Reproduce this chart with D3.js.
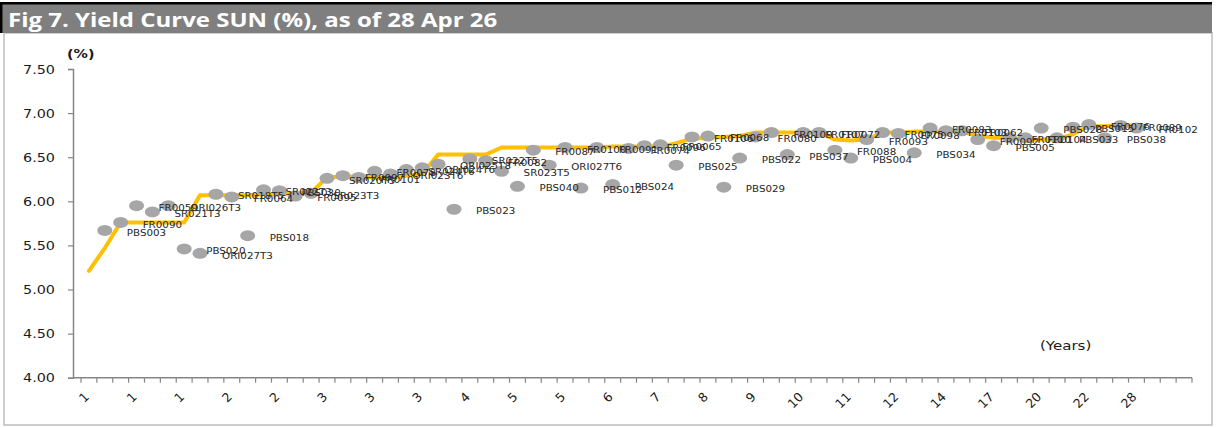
<!DOCTYPE html>
<html>
<head>
<meta charset="utf-8">
<script src="https://cdn.jsdelivr.net/npm/d3@7"></script>
<style>
  html, body { margin: 0; padding: 0; background: #fff; }
  svg { display: block; }
  .axis path, .axis line { stroke: #868686; }
  .axis text { fill: #1a1a1a; font-family: "DejaVu Sans", sans-serif; }
</style>
</head>
<body>
<div id="chart"></div>
<script>
// Tenor labels shown every third category on the x axis
const tenorLabels = ['1', '1', '1', '2', '2', '3', '3', '3', '4', '5', '5', '6', '7', '8',
  '9', '10', '11', '12', '14', '17', '20', '22', '28'];

// Bonds, in category order (category 0 only carries the curve)
const bondNames = ['PBS003', 'FR0090', 'FR0059', 'SR021T3', 'ORI026T3', 'PBS020', 'ORI027T3',
  'SR018T5', 'FR0064', 'PBS018', 'SR022T3', 'PBS030', 'FR0095', 'SR023T3', 'SR020T5',
  'FR0097', 'FR0101', 'FR0078', 'ORI023T6', 'SR024T6', 'ORI024T6', 'ORI025T8', 'PBS023',
  'SR022T5', 'FR0082', 'SR023T5', 'PBS040', 'FR0087', 'ORI027T6', 'FR0100', 'PBS012',
  'FR0091', 'PBS024', 'FR0074', 'FR0096', 'FR0065', 'PBS025', 'FR0106', 'FR0068', 'PBS029',
  'PBS022', 'FR0080', 'FR0109', 'PBS037', 'FR0107', 'FR0072', 'FR0088', 'PBS004', 'FR0093',
  'FR0075', 'FR0098', 'PBS034', 'FR0083', 'FR0103', 'FR0062', 'FR0092', 'PBS005', 'FR0110',
  'FR0104', 'PBS028', 'PBS033', 'PBS015', 'FR0076', 'PBS038', 'FR0089', 'FR0102'];

// Yield of each bond (%)
const bondYields = [5.67, 5.76, 5.95, 5.88, 5.95, 5.46, 5.41,
  6.08, 6.05, 5.61, 6.13, 6.12, 6.06, 6.09, 6.26,
  6.29, 6.27, 6.34, 6.31, 6.36, 6.38, 6.42, 5.91,
  6.48, 6.46, 6.34, 6.17, 6.58, 6.41, 6.61, 6.15,
  6.61, 6.19, 6.60, 6.63, 6.64, 6.41, 6.73, 6.74, 6.16,
  6.49, 6.73, 6.78, 6.53, 6.78, 6.78, 6.58, 6.49, 6.70,
  6.78, 6.77, 6.55, 6.83, 6.80, 6.80, 6.70, 6.63, 6.72,
  6.72, 6.83, 6.72, 6.84, 6.87, 6.72, 6.86, 6.83];

// Fitted yield curve (%), from category 0
const curveYields = [5.21, 5.47, 5.76, 5.76, 5.76, 5.76, 5.76, 6.07, 6.07, 6.07,
  6.07, 6.08, 6.08, 6.09, 6.10, 6.27, 6.28, 6.28, 6.27, 6.27,
  6.29, 6.31, 6.53, 6.53, 6.53, 6.53, 6.61, 6.61, 6.61, 6.61,
  6.61, 6.61, 6.61, 6.62, 6.62, 6.62, 6.62, 6.66, 6.71, 6.72,
  6.73, 6.74, 6.78, 6.78, 6.78, 6.78, 6.78, 6.70, 6.69, 6.70,
  6.78, 6.78, 6.79, 6.79, 6.79, 6.79, 6.74, 6.72, 6.72, 6.70,
  6.70, 6.70, 6.76, 6.85, 6.85, 6.86, 6.86];

const yTicks = [4.0, 4.5, 5.0, 5.5, 6.0, 6.5, 7.0, 7.5];
const nCategories = 70;

const width = 1216;
const height = 428;
const stretch = 1.25; // the source picture is wider than it is tall

const svg = d3.select('#chart')
  .append('svg')
  .attr('width', width)
  .attr('height', height);

// Frame and title bar
svg.append('rect')
  .attr('x', 4).attr('y', 33).attr('width', 1208).attr('height', 392)
  .attr('fill', '#fff').attr('stroke', '#bfbfbf').attr('stroke-width', 1.5);

svg.append('rect')
  .attr('x', 1).attr('y', 3).attr('width', 1211).attr('height', 30)
  .attr('fill', '#7f7f7f');
svg.append('path')
  .attr('d', 'M1.2,33V3.2H1212')
  .attr('fill', 'none').attr('stroke', '#000').attr('stroke-width', 2.5);

svg.append('text')
  .attr('transform', 'translate(8,26.5) scale(1.2,1)')
  .attr('fill', '#fff')
  .style('font-family', '"Open Sans", sans-serif')
  .style('font-weight', 700)
  .style('font-size', '20px')
  .text('Fig 7. Yield Curve SUN (%), as of 28 Apr 26');

// Scales
const x = d3.scaleBand()
  .domain(d3.range(nCategories))
  .range([81, 1192]);

const y = d3.scaleLinear()
  .domain([4, 7.5])
  .range([377.7, 69]);

const cx = i => x(i) + x.bandwidth() / 2;

// Y axis
const yAxis = svg.append('g')
  .attr('class', 'axis')
  .attr('transform', 'translate(73,0)')
  .call(d3.axisLeft(y).tickValues(yTicks).tickFormat(d3.format('.2f')).tickSize(5).tickPadding(0));

yAxis.select('.domain').attr('stroke-width', 1.5);
yAxis.selectAll('.tick line').attr('stroke-width', 1.2);
yAxis.selectAll('.tick text')
  .attr('x', 0)
  .attr('text-anchor', 'end')
  .attr('dy', '0.36em')
  .attr('transform', `translate(-18,0) scale(${stretch},1)`)
  .style('font-size', '11.5px');

// X axis
const xAxis = svg.append('g')
  .attr('class', 'axis')
  .attr('transform', `translate(0,${y(4)})`)
  .call(d3.axisBottom(x).tickSize(0).tickFormat(i => i % 3 === 0 ? tenorLabels[i / 3] : ''));

xAxis.select('.domain')
  .attr('d', `M73,0H${x.range()[1]}`)
  .attr('stroke-width', 1.5);

// tick marks sit on the category boundaries
xAxis.selectAll('line.boundary')
  .data(d3.range(nCategories + 1))
  .enter()
  .append('line')
  .attr('class', 'boundary')
  .attr('x1', i => 81 + i * x.step())
  .attr('x2', i => 81 + i * x.step())
  .attr('y1', 0)
  .attr('y2', 5)
  .attr('stroke', '#868686')
  .attr('stroke-width', 1.2);

xAxis.selectAll('.tick text')
  .attr('text-anchor', 'end')
  .attr('y', 0)
  .attr('dy', 0)
  .attr('transform', 'translate(1,20) rotate(-45)')
  .style('font-size', '12.5px');

// Axis titles
svg.append('text')
  .attr('transform', `translate(67,58) scale(${stretch},1)`)
  .style('font-family', '"DejaVu Sans", sans-serif')
  .style('font-size', '11.5px')
  .style('font-weight', 700)
  .attr('fill', '#1a1a1a')
  .text('(%)');

svg.append('text')
  .attr('transform', `translate(1040,350) scale(${stretch},1)`)
  .style('font-family', '"DejaVu Sans", sans-serif')
  .style('font-size', '12px')
  .attr('fill', '#1a1a1a')
  .text('(Years)');

// Yield curve
const line = d3.line()
  .x((d, i) => cx(i))
  .y(d => y(d));

svg.append('path')
  .datum(curveYields)
  .attr('d', line)
  .attr('fill', 'none')
  .attr('stroke', '#ffc000')
  .attr('stroke-width', 4)
  .attr('stroke-linejoin', 'round')
  .attr('stroke-linecap', 'round');

// Bond yields
const bonds = bondNames.map((name, i) => ({ name, value: bondYields[i], cat: i + 1 }));

svg.append('g')
  .selectAll('ellipse')
  .data(bonds)
  .enter()
  .append('ellipse')
  .attr('cx', d => cx(d.cat))
  .attr('cy', d => y(d.value))
  .attr('rx', 7.5)
  .attr('ry', 5.5)
  .attr('fill', '#a6a6a6');

svg.append('g')
  .selectAll('text')
  .data(bonds)
  .enter()
  .append('text')
  .attr('transform', d => `translate(${cx(d.cat) + 22},${y(d.value) + 2}) scale(1.2,1)`)
  .attr('dominant-baseline', 'central')
  .style('font-family', '"DejaVu Sans", sans-serif')
  .style('font-size', '8.6px')
  .attr('fill', '#262626')
  .text(d => d.name);
</script>
</body>
</html>
